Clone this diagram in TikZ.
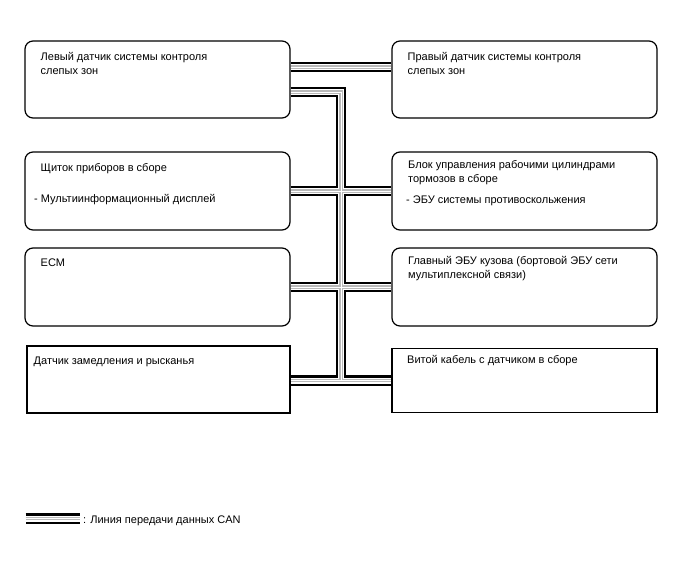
\documentclass[tikz,border=0pt]{standalone}
\usepackage{fontspec}
\setmainfont{Liberation Sans}
\usetikzlibrary{positioning}

\begin{document}
\begin{tikzpicture}[
    x=1pt, y=-1pt,
    box/.style={draw, line width=1.2pt, rounded corners=8pt, minimum width=265pt, minimum height=78pt, inner sep=0pt},
    sqbox/.style={box, sharp corners, minimum height=66pt},
    txt/.style={inner sep=0pt, anchor=north west, align=left, font=\fontsize{11}{14}\selectfont},
    can/.style={line width=10.5pt, postaction={draw, white, line width=6pt}, postaction={draw, gray!55, line width=3.2pt}, postaction={draw, white, line width=1pt}},
]
    \fill[white] (0,0) rectangle (688,560);
    \useasboundingbox (0,0) rectangle (688,560);

    % Left column
    \node[box, minimum height=77pt] (lbsm) at (157.5,79.5) {};
    \node[box] (meter) at (157.5,191) {};
    \node[box] (ecm) at (157.5,287) {};
    \node[sqbox, minimum width=263pt, minimum height=67pt] (yaw) at (158.5,379.5) {};

    % Right column
    \node[box, minimum height=77pt] (rbsm) at (524.5,79.5) {};
    \node[box] (brake) at (524.5,191) {};
    \node[box] (body) at (524.5,287) {};
    \node[sqbox, minimum height=64pt] (spiral) at (524.5,380.5) {};

    % Texts
    \node[txt] (lbsmt) at (40.5,52.5) {Левый датчик системы контроля\\слепых зон};
    \node[txt] (rbsmt) at (407.5,52.5) {Правый датчик системы контроля\\слепых зон};
    \node[txt] (metert) at (40.5,163.5) {Щиток приборов в сборе};
    \node[txt] (metersub) at (34,194.5) {- Мультиинформационный дисплей};
    \node[txt] (braket) at (408,160) {Блок управления рабочими цилиндрами\\тормозов в сборе};
    \node[txt] (brakesub) at (406,196) {- ЭБУ системы противоскольжения};
    \node[txt] (ecmt) at (40.5,258.5) {ECM};
    \node[txt] (bodyt) at (408,256) {Главный ЭБУ кузова (бортовой ЭБУ сети\\мультиплексной связи)};
    \node[txt] (yawt) at (33.5,356.5) {Датчик замедления и рысканья};
    \node[txt] (spiralt) at (407,355.5) {Витой кабель с датчиком в сборе};

    % CAN bus
    \coordinate (trunk) at (341,0);
    \draw[can] ([yshift=12.5pt]lbsm.east) -- ([yshift=12.5pt]rbsm.west)
               ([yshift=-12.5pt]lbsm.east) -| (trunk |- spiral.west)
               (meter) -- (brake)
               (ecm) -- (body)
               (yaw.east |- spiral.west) -- (spiral);

    % Legend
    \coordinate (lgs) at (25.5,518.5);
    \node[txt] (lgt) at (83,515.5) {: Линия передачи данных CAN};
    \draw[can] (lgs) -- ([xshift=-3.5pt]lgs -| lgt.west);

\end{tikzpicture}
\end{document}
